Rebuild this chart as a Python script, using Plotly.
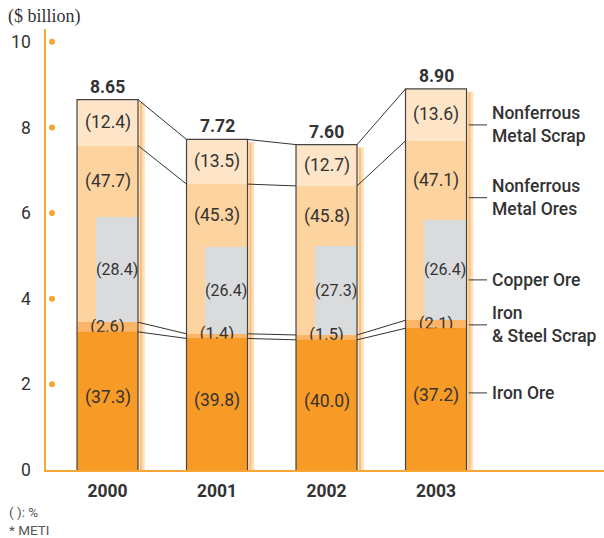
import plotly.graph_objects as go

# ---- data ($ billion totals and percentage shares) ----
years = ["2000", "2001", "2002", "2003"]
totals = [8.65, 7.72, 7.60, 8.90]
iron_ore = [37.3, 39.8, 40.0, 37.2]
iron_scrap = [2.6, 1.4, 1.5, 2.1]
nf_ores = [47.7, 45.3, 45.8, 47.1]
copper_ore = [28.4, 26.4, 27.3, 26.4]
nf_scrap = [12.4, 13.5, 12.7, 13.6]

series_names = ["Nonferrous<br>Metal Scrap", "Nonferrous<br>Metal Ores", "Copper Ore",
                "Iron<br>& Steel Scrap", "Iron Ore"]

# ---- styling ----
C_IRON = "#F89A26"
C_SCRAP = "#FBB567"
C_NFORE = "#FDD39F"
C_NFSCRAP = "#FEE5C8"
C_COPPER = "#DADBDD"
C_AXIS = "#F7A535"
C_TEXT = "#333333"
C_EDGE = "#444444"
FONT = "Roboto, 'Noto Sans', sans-serif"

W = 0.557    # main bar width (x units)
CW = 0.384   # copper inner bar width
SH = 0.062   # side shading width

x = list(range(len(years)))


def amount(total, pct):
    return total * pct / 100.0


v_iron = [amount(t, p) for t, p in zip(totals, iron_ore)]
v_scrap = [amount(t, p) for t, p in zip(totals, iron_scrap)]
v_nfore = [amount(t, p) for t, p in zip(totals, nf_ores)]
v_copper = [amount(t, p) for t, p in zip(totals, copper_ore)]
v_nfscrap = [amount(t, p) for t, p in zip(totals, nf_scrap)]

b_scrap = v_iron
b_nfore = [a + b for a, b in zip(v_iron, v_scrap)]
b_nfscrap = [a + b for a, b in zip(b_nfore, v_nfore)]

fig = go.Figure()


def add_bar(y, base, color, width=W, offset=None):
    fig.add_trace(go.Bar(
        x=x, y=y, base=base, width=width, offset=offset,
        marker=dict(color=color, line=dict(width=0)),
        hoverinfo="skip", showlegend=False,
    ))


add_bar(v_iron, [0] * 4, C_IRON)
add_bar(v_scrap, b_scrap, C_SCRAP)
add_bar(v_nfore, b_nfore, C_NFORE)
add_bar(v_nfscrap, b_nfscrap, C_NFSCRAP)
add_bar(v_copper, b_nfore, C_COPPER, width=CW, offset=W / 2 - CW)

# small scrap labels (partly hidden behind the iron-ore block drawn above them)
fig.add_trace(go.Scatter(
    x=x, y=[b + 0.09 for b in b_scrap], mode="text",
    text=[f"({v:.1f})" for v in iron_scrap],
    textfont=dict(family=FONT, size=16.5, color=C_TEXT),
    hoverinfo="skip", showlegend=False, cliponaxis=False,
))

# axis dots
fig.add_trace(go.Scatter(
    x=[-0.507] * 5, y=[2, 4, 6, 8, 10], mode="markers",
    marker=dict(color=C_AXIS, size=6), hoverinfo="skip",
    showlegend=False, cliponaxis=False,
))

shapes = []
# side shading
for i, t in enumerate(totals):
    xr = i + W / 2
    shapes.append(dict(type="rect", xref="x", yref="y", x0=xr, x1=xr + SH,
                       y0=0, y1=t - 0.06, fillcolor="#FEE0BE", line=dict(width=0),
                       layer="below"))
    shapes.append(dict(type="rect", xref="x", yref="y", x0=xr + SH * 0.3, x1=xr + SH * 0.6,
                       y0=0, y1=t - 0.08, fillcolor="#FBC07A", line=dict(width=0),
                       layer="below"))

# iron ore block over the scrap labels, then bar outlines
for i in x:
    shapes.append(dict(type="rect", xref="x", yref="y", x0=i - W / 2, x1=i + W / 2,
                       y0=0, y1=v_iron[i], fillcolor=C_IRON, line=dict(width=0),
                       layer="above"))
for i, t in enumerate(totals):
    x0, x1 = i - W / 2, i + W / 2
    shapes.append(dict(type="path", xref="x", yref="y",
                       path=f"M {x0},0 L {x0},{t} L {x1},{t} L {x1},0",
                       line=dict(color=C_EDGE, width=1.2), layer="above"))

# connector lines between neighbouring bars
levels = [totals, b_nfscrap, b_nfore, v_iron]
for lv in levels:
    for i in range(len(years) - 1):
        shapes.append(dict(type="line", xref="x", yref="y",
                           x0=i + W / 2, x1=i + 1 - W / 2, y0=lv[i], y1=lv[i + 1],
                           line=dict(color=C_TEXT, width=1), layer="above"))

# right-hand series labels with leader lines
legend_y = [8.06, 6.36, 4.44, 3.39, 1.80]
last = len(years) - 1
for name, ly in zip(series_names, legend_y):
    shapes.append(dict(type="line", xref="x", yref="y",
                       x0=last + W / 2 + 0.02, x1=3.466, y0=ly, y1=ly,
                       line=dict(color=C_TEXT, width=1), layer="above"))

annotations = []
for name, ly in zip(series_names, legend_y):
    annotations.append(dict(x=3.49, y=ly, xref="x", yref="y", text=name,
                            showarrow=False, xanchor="left", yanchor="middle", align="left",
                            font=dict(family=FONT, size=17.5, color=C_TEXT, weight=500)))

for i in x:
    t = totals[i]
    # total on top
    annotations.append(dict(x=i, y=t, xref="x", yref="y", text=f"{t:.2f}",
                            showarrow=False, yanchor="bottom", yshift=1,
                            font=dict(family=FONT, size=17.5, color=C_TEXT, weight="bold")))
    # nonferrous metal scrap
    annotations.append(dict(x=i, y=b_nfscrap[i] + v_nfscrap[i] / 2, xref="x", yref="y",
                            text=f"({nf_scrap[i]:.1f})", showarrow=False,
                            font=dict(family=FONT, size=17.5, color=C_TEXT)))
    # nonferrous metal ores (above the copper block)
    cu_top = b_nfore[i] + v_copper[i]
    annotations.append(dict(x=i, y=(cu_top + b_nfscrap[i]) / 2, xref="x", yref="y",
                            text=f"({nf_ores[i]:.1f})", showarrow=False,
                            font=dict(family=FONT, size=17.5, color=C_TEXT)))
    # copper ore
    annotations.append(dict(x=i + W / 2 - CW / 2, y=b_nfore[i] + v_copper[i] / 2,
                            xref="x", yref="y", text=f"({copper_ore[i]:.1f})",
                            showarrow=False,
                            font=dict(family=FONT, size=16, color=C_TEXT)))
    # iron ore
    annotations.append(dict(x=i, y=v_iron[i] / 2 + 0.08, xref="x", yref="y",
                            text=f"({iron_ore[i]:.1f})", showarrow=False,
                            font=dict(family=FONT, size=17.5, color=C_TEXT)))

# plot-area margins set so that the y axis sits at x=46 and zero at y=470
M_L, M_T, M_B = 46, 29, 68
PW, PH = 604 - M_L, 538 - M_T - M_B


def px(xp):
    return (xp - M_L) / PW


def py(yp):
    return (538 - M_B - yp) / PH


annotations.append(dict(x=px(6), y=py(4), xref="paper", yref="paper", text="($ billion)",
                        showarrow=False, xanchor="left", yanchor="top",
                        font=dict(family="'Liberation Serif', 'DejaVu Serif', serif",
                                  size=18, color=C_TEXT)))
annotations.append(dict(x=px(7), y=py(502), xref="paper", yref="paper",
                        text="( ): %<br>* METI", showarrow=False, xanchor="left",
                        yanchor="top", align="left",
                        font=dict(family=FONT, size=13.5, color="#555555")))

fig.update_layout(
    width=604, height=538,
    margin=dict(l=M_L, r=0, t=M_T, b=M_B, pad=0),
    paper_bgcolor="white", plot_bgcolor="white",
    barmode="overlay", bargap=0,
    shapes=shapes, annotations=annotations,
    xaxis=dict(range=[-0.5616, 4.534], tickmode="array", tickvals=x, ticktext=years,
               showline=True, linecolor=C_AXIS, linewidth=1.5, showgrid=False,
               zeroline=False, ticks="outside", ticklen=4, tickcolor="rgba(0,0,0,0)",
               tickfont=dict(family=FONT, size=17.5, color=C_TEXT, weight="bold")),
    yaxis=dict(range=[0, 10.3], tickmode="array", tickvals=[0, 2, 4, 6, 8, 10],
               showline=True, linecolor=C_AXIS, linewidth=1.5, showgrid=False,
               zeroline=False, ticks="outside", ticklen=10, tickcolor="rgba(0,0,0,0)",
               tickfont=dict(family=FONT, size=17.5, color=C_TEXT)),
    showlegend=False,
)

fig.write_html("out.html")
